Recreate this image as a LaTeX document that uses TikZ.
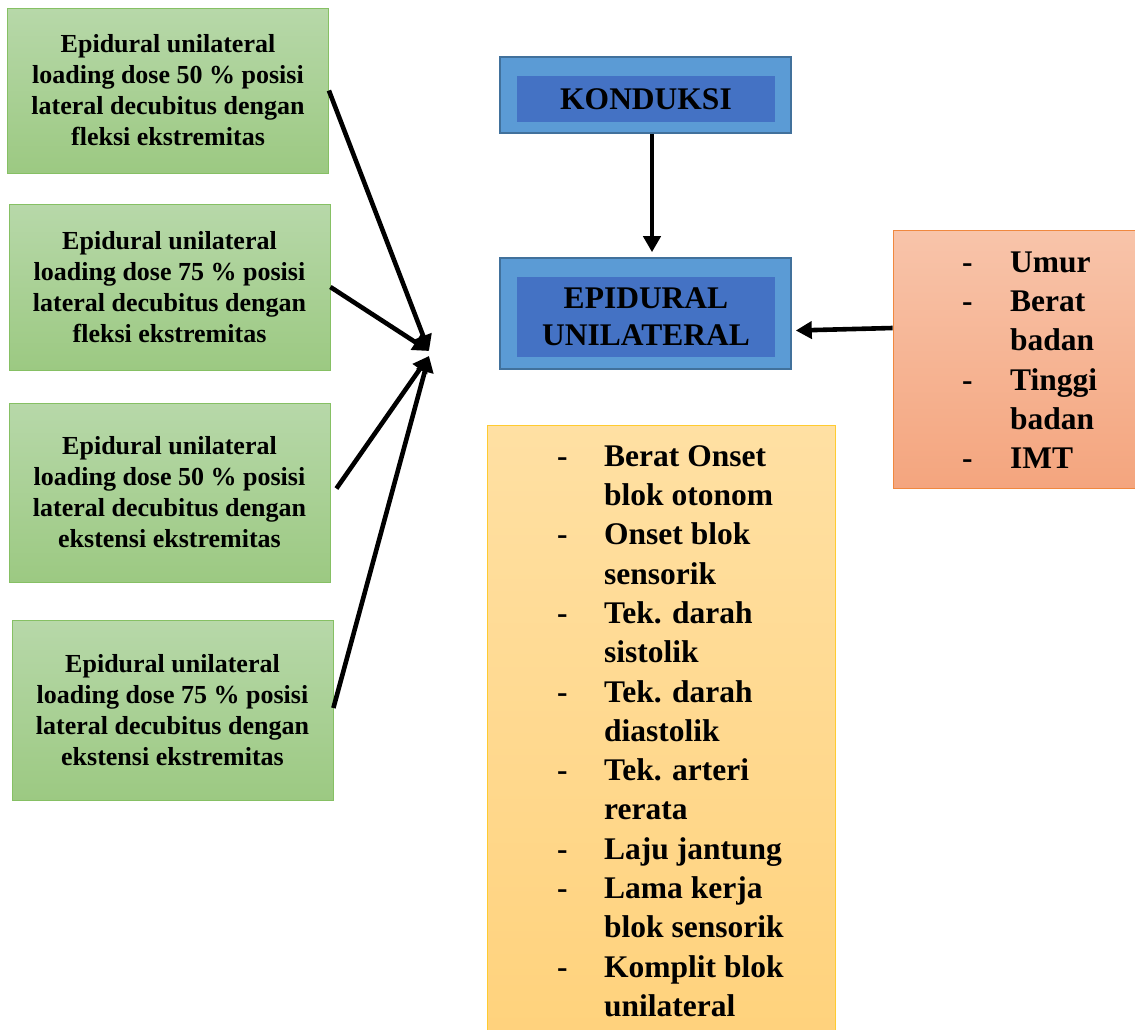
\documentclass[tikz,border=0pt]{standalone}
\usepackage{fontspec}
\setmainfont{Liberation Serif}
\definecolor{gTop}{HTML}{B7D8A9}
\definecolor{gBot}{HTML}{9CC982}
\definecolor{gLine}{HTML}{86C064}
\definecolor{bOut}{HTML}{5B9BD5}
\definecolor{bIn}{HTML}{4472C4}
\definecolor{bLine}{HTML}{41719C}
\definecolor{oTop}{HTML}{F8C4AA}
\definecolor{oBot}{HTML}{F4A57E}
\definecolor{oLine}{HTML}{F0883F}
\definecolor{yTop}{HTML}{FFE0A3}
\definecolor{yBot}{HTML}{FFD27C}
\definecolor{yLine}{HTML}{FFCB30}
\usetikzlibrary{arrows.meta}

\begin{document}
\begin{tikzpicture}[x=1pt, y=-1pt,
  g/.style={draw=gLine, thick, top color=gTop, bottom color=gBot,
            minimum width=321pt, align=center,
            font=\fontsize{26}{31}\selectfont\bfseries},
  bo/.style={draw=bLine, line width=1.6pt, fill=bOut,
             minimum width=291pt},
  bi/.style={fill=bIn, minimum width=258pt, align=center,
             font=\fontsize{31.5}{37}\selectfont\bfseries},
  lst/.style={inner sep=0pt, anchor=north west, align=left,
              font=\fontsize{31.5}{39.3}\selectfont\bfseries},
  arr/.style={-{Triangle[length=16pt,width=17pt]}, line width=4.6pt}]
  \useasboundingbox (0,0) rectangle (1135,1029);
  % left: four variants
  \node[g, minimum height=165pt] (g1) at (168,90.5)
     {Epidural unilateral\\loading dose 50 \% posisi\\lateral decubitus dengan\\fleksi ekstremitas};
  \node[g, minimum height=166pt] (g2) at (169.5,287)
     {Epidural unilateral\\loading dose 75 \% posisi\\lateral decubitus dengan\\fleksi ekstremitas};
  \node[g, minimum height=179pt] (g3) at (169.5,492.5)
     {Epidural unilateral\\loading dose 50 \% posisi\\lateral decubitus dengan\\ekstensi ekstremitas};
  \node[g, minimum height=180pt] (g4) at (172.5,710)
     {Epidural unilateral\\loading dose 75 \% posisi\\lateral decubitus dengan\\ekstensi ekstremitas};
  \coordinate (hubT) at (429,351);
  \coordinate (hubB) at (429,356);
  \draw[arr] (g1.east) -- (hubT);
  \draw[arr] (g2.east) -- (hubT);
  \draw[arr] ([xshift=6pt,yshift=4pt]g3.east) -- (hubB);
  \draw[arr] ([yshift=2pt]g4.east) -- (hubB);

  % centre: blue boxes
  \node[bo, minimum height=76pt] (kond) at (645.5,95) {};
  \node[bi, minimum height=46pt] (kond-in) at (646,99) {KONDUKSI};
  \node[bo, minimum height=111pt] (epi) at (645.5,313.5) {};
  \node[bi, minimum height=80pt] (epi-in) at (646,316.5) {EPIDURAL\\UNILATERAL};
  \draw[arr, shorten >=5pt] ([xshift=6.5pt]kond.south) -- ([xshift=6.5pt]epi.north);

  % right: factors
  \node[draw=oLine, thick, top color=oTop, bottom color=oBot,
        minimum width=247pt, minimum height=258pt] (fak) at (1016.5,359) {};
  \node[lst] (fak-txt) at (962,244.5) {\begin{tabular}{@{}p{48pt}@{}l@{}}
    - & Umur\\
    - & Berat\\
      & badan\\
    - & Tinggi\\
      & badan\\
    - & IMT
  \end{tabular}};
  \draw[arr] ([yshift=31pt]fak.west) -- ([xshift=4pt,yshift=-17pt]epi.east);

  % bottom: outcomes
  \node[draw=yLine, thick, top color=yTop, bottom color=yBot,
        minimum width=348pt, minimum height=615pt] (hasil) at (661,732.5) {};
  \node[lst] (hasil-txt) at (557,438.5) {\begin{tabular}{@{}p{47pt}@{}l@{}}
    - & Berat Onset\\
      & blok otonom\\
    - & Onset blok\\
      & sensorik\\
    - & Tek. darah\\
      & sistolik\\
    - & Tek. darah\\
      & diastolik\\
    - & Tek. arteri\\
      & rerata\\
    - & Laju jantung\\
    - & Lama kerja\\
      & blok sensorik\\
    - & Komplit blok\\
      & unilateral
  \end{tabular}};
\end{tikzpicture}
\end{document}
